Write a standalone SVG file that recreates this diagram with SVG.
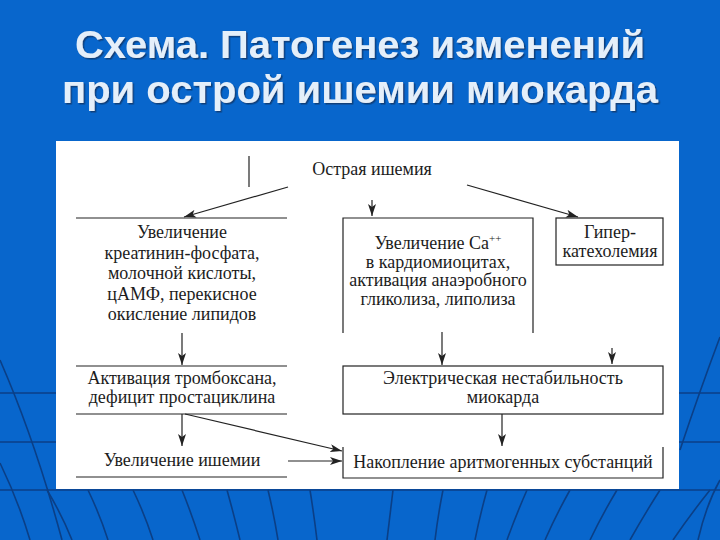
<svg xmlns="http://www.w3.org/2000/svg" width="720" height="540" viewBox="0 0 720 540">
<style>
.bgl{fill:none;stroke:#0B3F86;stroke-width:1.6}
.title{font-family:"Liberation Sans",Arial,sans-serif;font-weight:bold;font-size:39px;fill:#E4EFFA}
.t{font-family:"Liberation Serif","Times New Roman",serif;font-size:18px;fill:#1c1c1c;text-anchor:middle}
.ln{fill:none;stroke:#222;stroke-width:1.2}
.cn{fill:none;stroke:#222;stroke-width:1.2}
</style>
<defs>
<marker id="ah" viewBox="0 0 12 8" refX="12" refY="4" markerWidth="12" markerHeight="8" orient="auto" markerUnits="userSpaceOnUse">
<path d="M0,0 L12,4 L0,8 L3,4 z" fill="#222"/>
</marker>
<filter id="sh" x="-5%" y="-20%" width="110%" height="140%">
<feDropShadow dx="1.5" dy="1.5" stdDeviation="0.6" flood-color="#113A72" flood-opacity="0.9"/>
</filter>
</defs>
<rect width="720" height="540" fill="#0866CC"/>
<g id="background-lines">
<path class="bgl" d="M0,393 H720 M0,442 H720 M0,490 H720"/>
<path class="bgl" d="M0,360 Q35,440 62,540"/>
<path class="bgl" d="M0,463 Q18,500 30,540"/>
<path class="bgl" d="M47,490 Q62,515 72,540"/>
<path class="bgl" d="M88,490 Q100,515 108,540"/>
<path class="bgl" d="M133,490 Q145,515 153,540"/>
<path class="bgl" d="M182,490 Q192,515 200,540"/>
<path class="bgl" d="M227,490 Q234,515 240,540"/>
<path class="bgl" d="M268,490 Q274,515 278,540"/>
<path class="bgl" d="M310,490 Q314,515 317,540"/>
<path class="bgl" d="M393,490 Q390,515 387,540"/>
<path class="bgl" d="M443,490 Q438,515 435,540"/>
<path class="bgl" d="M487,490 Q480,515 475,540"/>
<path class="bgl" d="M527,490 Q516,515 507,540"/>
<path class="bgl" d="M570,490 Q556,515 545,540"/>
<path class="bgl" d="M617,490 Q602,515 590,540"/>
<path class="bgl" d="M660,490 Q644,515 630,540"/>
<path class="bgl" d="M720,337 Q700,390 680,450"/>
<path class="bgl" d="M720,480 Q706,505 698,540"/>
<path class="bgl" d="M710,490 Q690,515 673,540"/>
</g>
<g id="title" filter="url(#sh)">
<text class="title" x="75" y="58" textLength="570" lengthAdjust="spacingAndGlyphs">Схема. Патогенез изменений</text>
<text class="title" x="62" y="103" textLength="596" lengthAdjust="spacingAndGlyphs">при острой ишемии миокарда</text>
</g>
<rect id="panel" x="56" y="141" width="623" height="348" fill="#FFFFFF"/>
<g id="connectors">
<path class="cn" d="M249,156 V187"/>
<path class="cn" d="M288,187 L184,217" marker-end="url(#ah)"/>
<path class="cn" d="M372,200 L372,216" marker-end="url(#ah)"/>
<path class="cn" d="M467,185 L578,217" marker-end="url(#ah)"/>
<path class="cn" d="M182,333 L182,365" marker-end="url(#ah)"/>
<path class="cn" d="M182,414 L182,446" marker-end="url(#ah)"/>
<path class="cn" d="M185,414 L342,451" marker-end="url(#ah)"/>
<path class="cn" d="M288,461 L342,461" marker-end="url(#ah)"/>
<path class="cn" d="M442,332 L442,365" marker-end="url(#ah)"/>
<path class="cn" d="M612,348 L612,364" marker-end="url(#ah)"/>
<path class="cn" d="M502,414 L502,446" marker-end="url(#ah)"/>
</g>
<g id="node-ostraya">
<text class="t" x="372" y="175">Острая ишемия</text>
</g>
<g id="node-left1">
<path class="ln" d="M76,218 H287"/>
<text class="t" x="182" y="238">Увеличение<tspan x="182" dy="20.5">креатинин-фосфата,</tspan><tspan x="182" dy="20.5">молочной кислоты,</tspan><tspan x="182" dy="20.5">цАМФ, перекисное</tspan><tspan x="182" dy="20.5">окисление липидов</tspan></text>
</g>
<g id="node-left2">
<path class="ln" d="M76,366 H287 M76,414 H287"/>
<text class="t" x="182" y="384">Активация тромбоксана,<tspan x="182" dy="19">дефицит простациклина</tspan></text>
</g>
<g id="node-left3">
<text class="t" x="182" y="466">Увеличение ишемии</text>
<path class="ln" d="M76,477 H287"/>
</g>
<g id="node-calcium">
<path class="ln" d="M343,333 V218 H533 V333"/>
<text class="t" x="438" y="249">Увеличение Ca<tspan font-size="11" dy="-7">++</tspan><tspan x="438" dy="25.5">в кардиомиоцитах,</tspan><tspan x="438" dy="18.7">активация анаэробного</tspan><tspan x="438" dy="18.7">гликолиза, липолиза</tspan></text>
</g>
<g id="node-giper">
<rect class="ln" x="556" y="218" width="107" height="47"/>
<text class="t" x="610" y="238">Гипер-<tspan x="610" dy="19">катехолемия</tspan></text>
</g>
<g id="node-elec">
<rect class="ln" x="343" y="366" width="320" height="48"/>
<text class="t" x="503" y="384">Электрическая нестабильность<tspan x="503" dy="19">миокарда</tspan></text>
</g>
<g id="node-nakop">
<path class="ln" d="M343,447 V478 H663 V447"/>
<text class="t" x="503" y="468">Накопление аритмогенных субстанций</text>
</g>
</svg>
